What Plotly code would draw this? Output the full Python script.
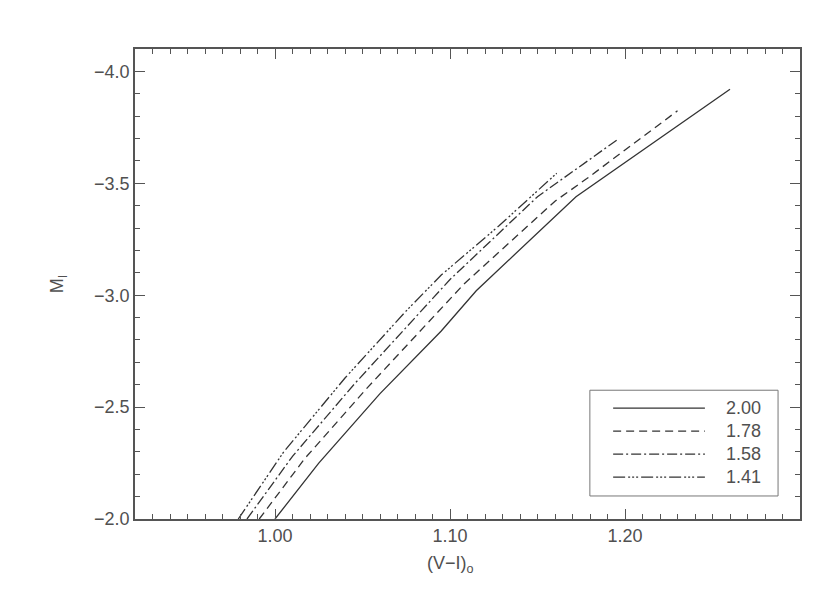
import plotly.graph_objects as go

# (V-I)o colour and M_I magnitude for each model
vi_200 = [1.000, 1.025, 1.060, 1.095, 1.115, 1.172, 1.260]
mi_200 = [-2.00, -2.25, -2.56, -2.84, -3.02, -3.44, -3.92]

vi_178 = [0.991, 1.017, 1.052, 1.088, 1.108, 1.160, 1.178, 1.230]
mi_178 = [-2.00, -2.27, -2.58, -2.88, -3.05, -3.42, -3.52, -3.824]

vi_158 = [0.984, 1.010, 1.045, 1.080, 1.100, 1.150, 1.196]
mi_158 = [-2.00, -2.28, -2.60, -2.90, -3.07, -3.44, -3.697]

vi_141 = [0.979, 1.005, 1.040, 1.075, 1.095, 1.128, 1.161]
mi_141 = [-2.00, -2.30, -2.63, -2.93, -3.09, -3.31, -3.545]

labels = ["2.00", "1.78", "1.58", "1.41"]
dashes = [
    "solid",
    "8px,5px",
    "10px,3px,2px,3px",
    "12px,3px,2px,2px,2px,2px,2px,3px",
]

INK = "#333333"
FONT = dict(family="Liberation Sans, Arial, sans-serif", size=18, color="#505050")

series = [(vi_200, mi_200), (vi_178, mi_178), (vi_158, mi_158), (vi_141, mi_141)]

fig = go.Figure()
for (x, y), name, dash in zip(series, labels, dashes):
    fig.add_trace(
        go.Scatter(
            x=x,
            y=y,
            mode="lines",
            name=name,
            line={"color": INK, "width": 1.3, "dash": dash},
            showlegend=False,
        )
    )

axis_common = dict(
    showgrid=False,
    zeroline=False,
    showline=True,
    linecolor="#555555",
    linewidth=1.5,
    mirror="allticks",
    ticks="inside",
    ticklen=10,
    tickwidth=1,
    tickcolor="#555555",
    tickfont=FONT,
)

fig.update_xaxes(
    range=[0.92, 1.30],
    tickvals=[1.00, 1.10, 1.20],
    tickformat=".2f",
    minor=dict(dtick=0.01, ticks="inside", ticklen=5, tickcolor="#555555", tick0=0.92),
    **axis_common,
)
fig.update_yaxes(
    range=[-2.0, -4.1],
    tickvals=[-4.0, -3.5, -3.0, -2.5, -2.0],
    tickformat=".1f",
    minor=dict(dtick=0.1, ticks="inside", ticklen=5, tickcolor="#555555", tick0=-4.0),
    title=dict(text="M<sub>I</sub>", font=FONT, standoff=26),
    **axis_common,
)

# x-axis title sits under the 1.10 tick in the original
fig.add_annotation(
    x=1.10, y=-0.068, xref="x", yref="paper",
    text="(V\u2212I)<sub>o</sub>", showarrow=False,
    font=FONT, yanchor="top",
)

# legend box drawn by hand so the line samples are long, as in the original
fig.add_shape(
    type="rect", xref="paper", yref="paper",
    x0=0.684, x1=0.967, y0=0.049, y1=0.274,
    line={"color": "#777777", "width": 1}, fillcolor="white", layer="above",
)
for i, (name, dash) in enumerate(zip(labels, dashes)):
    ly = 0.236 - i * 0.049
    fig.add_shape(
        type="line", xref="paper", yref="paper",
        x0=0.719, x1=0.857, y0=ly, y1=ly,
        line={"color": INK, "width": 1.3, "dash": dash}, layer="above",
    )
    fig.add_annotation(
        x=0.885, y=ly, xref="paper", yref="paper",
        text=name, showarrow=False, xanchor="left", yanchor="middle",
        font=FONT,
    )

fig.update_layout(
    width=830,
    height=596,
    margin={"l": 127, "r": 38, "t": 41, "b": 85},
    paper_bgcolor="white",
    plot_bgcolor="white",
    showlegend=False,
)

fig.write_html("out.html")
